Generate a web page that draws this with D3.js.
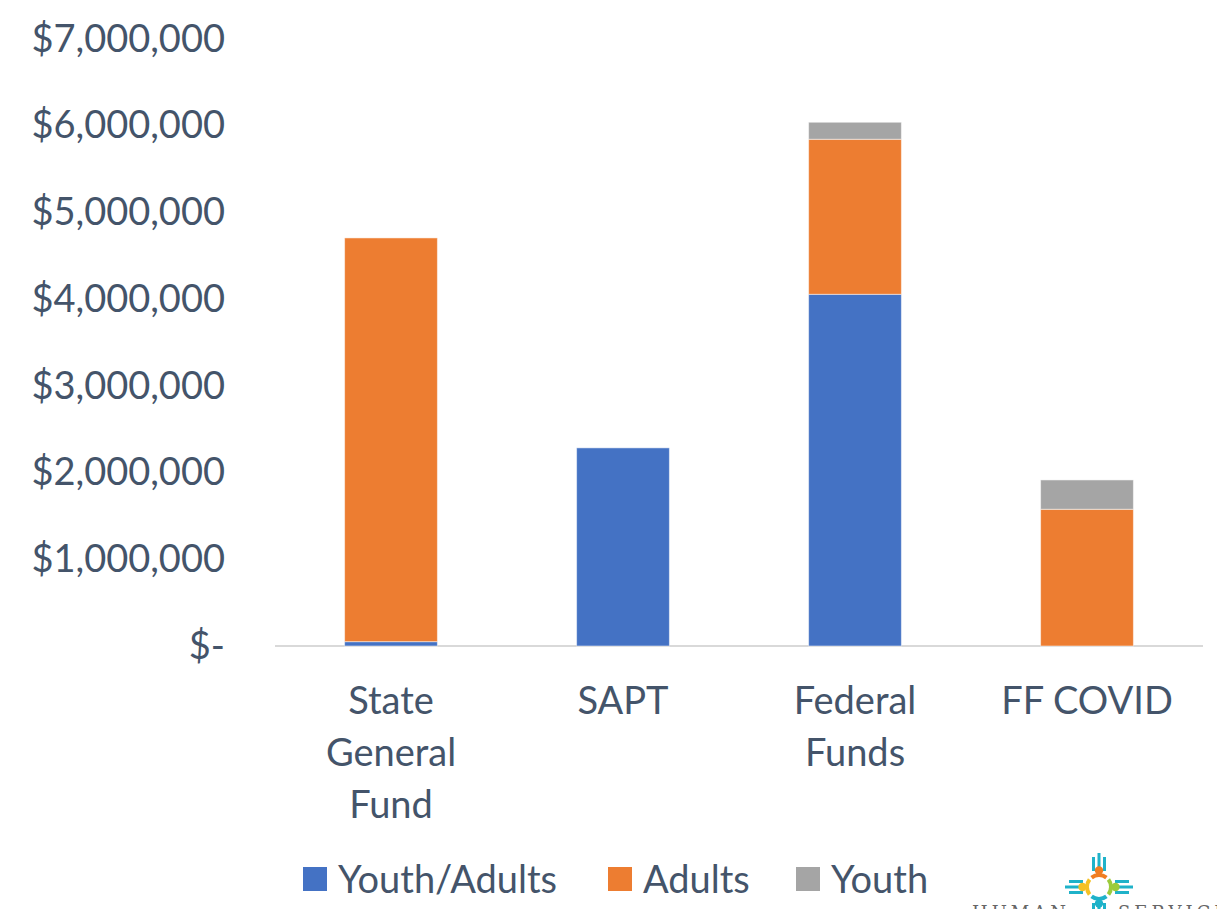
<!DOCTYPE html>
<html>
<head>
<meta charset="utf-8">
<script src="https://cdn.jsdelivr.net/npm/d3@7"></script>
<style>
  html, body { margin: 0; padding: 0; background: #fff; overflow: hidden; }
  text { font-family: Lato, "Open Sans", sans-serif; fill: #44546A; }
</style>
</head>
<body>
<div id="chart"></div>
<script>
// chart values
const categories = ['State General Fund', 'SAPT', 'Federal Funds', 'FF COVID'];
const categoryLines = [['State', 'General', 'Fund'], ['SAPT'], ['Federal', 'Funds'], ['FF COVID']];
const seriesNames = ['Youth/Adults', 'Adults', 'Youth'];
const youthAdults = [50000, 2285000, 4056000, 0];
const adults = [4656000, 0, 1788000, 1577000];
const youth = [0, 0, 196000, 338000];
const tickValues = [0, 1000000, 2000000, 3000000, 4000000, 5000000, 6000000, 7000000];
const colors = ['#4472C4', '#ED7D31', '#A5A5A5'];

const width = 1217, height = 909;
const margin = { top: 39, right: 14, bottom: 263, left: 275 };

const svg = d3.select('#chart').append('svg')
  .attr('width', width)
  .attr('height', height);

const rows = categories.map((c, i) => ({
  category: c,
  'Youth/Adults': youthAdults[i],
  'Adults': adults[i],
  'Youth': youth[i]
}));

const x = d3.scaleBand()
  .domain(categories)
  .range([margin.left, width - margin.right])
  .paddingInner(0.6)
  .paddingOuter(0.3);

const y = d3.scaleLinear()
  .domain([0, 7000000])
  .range([height - margin.bottom, margin.top]);

const color = d3.scaleOrdinal().domain(seriesNames).range(colors);

const stacked = d3.stack().keys(seriesNames)(rows);

// baseline
svg.append('line')
  .attr('x1', margin.left)
  .attr('x2', width - margin.right)
  .attr('y1', y(0))
  .attr('y2', y(0))
  .attr('stroke', '#D9D9D9')
  .attr('stroke-width', 2);

// bars
svg.append('g')
  .selectAll('g')
  .data(stacked)
  .join('g')
  .attr('fill', d => color(d.key))
  .selectAll('rect')
  .data(d => d.filter(s => s[1] - s[0] > 0))
  .join('rect')
  .attr('x', d => x(d.data.category))
  .attr('width', x.bandwidth())
  .attr('y', d => y(d[1]))
  .attr('height', d => y(d[0]) - y(d[1]))
  .attr('stroke', '#fff')
  .attr('stroke-opacity', 0.5)
  .attr('stroke-width', 1);

// y axis labels
const fmt = v => v === 0 ? '$-' : '$' + d3.format(',')(v);
const yAxis = svg.append('g')
  .attr('transform', `translate(${225},0)`)
  .call(d3.axisLeft(y).tickValues(tickValues).tickFormat(fmt).tickSize(0).tickPadding(0));
yAxis.select('.domain').remove();
yAxis.selectAll('text')
  .attr('font-size', 38)
  .attr('fill', '#44546A')
  .style('font-family', 'Lato, "Open Sans", sans-serif');

// category labels
const catG = svg.append('g')
  .selectAll('text')
  .data(categories)
  .join('text')
  .attr('text-anchor', 'middle')
  .attr('font-size', 38)
  .attr('x', d => x(d) + x.bandwidth() / 2)
  .attr('y', 714);
catG.selectAll('tspan')
  .data((d, i) => categoryLines[i])
  .join('tspan')
  .attr('x', function() { return d3.select(this.parentNode).attr('x'); })
  .attr('dy', (d, i) => i === 0 ? 0 : 52)
  .text(d => d);

// legend
const legendX = [303, 608, 796];
const legend = svg.append('g')
  .selectAll('g')
  .data(seriesNames)
  .join('g')
  .attr('transform', (d, i) => `translate(${legendX[i]},867)`);
legend.append('rect')
  .attr('width', 24)
  .attr('height', 24)
  .attr('fill', d => color(d));
legend.append('text')
  .attr('x', 35)
  .attr('y', 26)
  .attr('font-size', 38)
  .text(d => d);

// logo in the corner (cropped off at the bottom, as in the source)
const logo = svg.append('g').attr('transform', 'translate(1099,887)');
const teal = '#1FB2C9';
const rayLen = [-5.5, 0, 5.5].map(o => [o, o === 0 ? 34 : 30]);
rayLen.forEach(([o, len]) => {
  logo.append('line').attr('x1', o).attr('x2', o).attr('y1', -len).attr('y2', -16)
    .attr('stroke', teal).attr('stroke-width', 3);
  logo.append('line').attr('x1', o).attr('x2', o).attr('y1', 16).attr('y2', len)
    .attr('stroke', teal).attr('stroke-width', 3);
  logo.append('line').attr('y1', o).attr('y2', o).attr('x1', -len).attr('x2', -16)
    .attr('stroke', teal).attr('stroke-width', 3);
  logo.append('line').attr('y1', o).attr('y2', o).attr('x1', 16).attr('x2', len)
    .attr('stroke', teal).attr('stroke-width', 3);
});
const arcGen = d3.arc().innerRadius(10).outerRadius(14);
const ringColors = ['#F07D22', '#9CCB3B', '#1FB2C9', '#F5C125'];
ringColors.forEach((c, i) => {
  logo.append('path')
    .attr('d', arcGen({ startAngle: i * Math.PI / 2 - Math.PI / 4 + 0.12, endAngle: i * Math.PI / 2 + Math.PI / 4 - 0.12 }))
    .attr('fill', c);
  const a = i * Math.PI / 2;
  logo.append('circle')
    .attr('cx', Math.sin(a) * 16.5)
    .attr('cy', -Math.cos(a) * 16.5)
    .attr('r', 4.2)
    .attr('fill', c);
});
svg.append('text')
  .attr('x', 972)
  .attr('y', 919)
  .attr('font-size', 18)
  .style('font-family', '"DejaVu Serif", serif')
  .style('fill', '#666')
  .attr('letter-spacing', 4)
  .text('HUMAN');
svg.append('text')
  .attr('x', 1118)
  .attr('y', 919)
  .attr('font-size', 18)
  .style('font-family', '"DejaVu Serif", serif')
  .style('fill', '#666')
  .attr('letter-spacing', 4)
  .text('SERVICES');
</script>
</body>
</html>
